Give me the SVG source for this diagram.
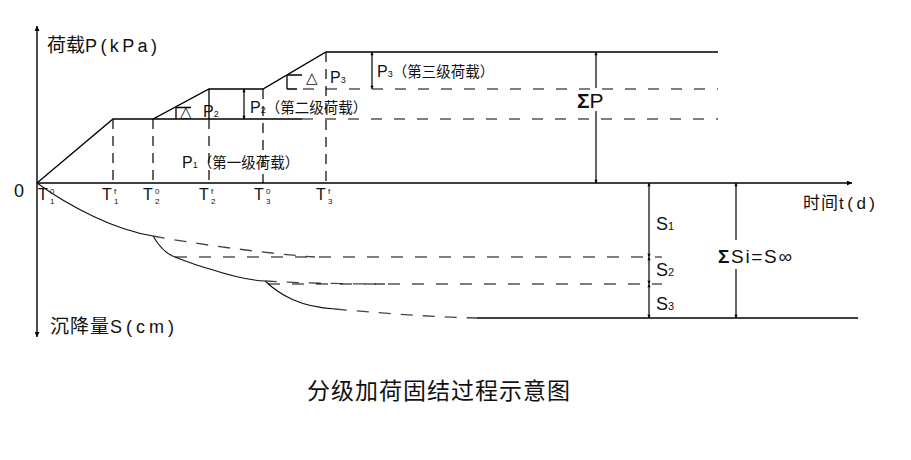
<svg xmlns="http://www.w3.org/2000/svg" width="911" height="460" viewBox="0 0 911 460">
<style>
.ln{stroke:#000;stroke-width:1.3;fill:none}
.dl{stroke:#000;stroke-width:1.2;fill:none;stroke-dasharray:11 12}
.dv{stroke:#000;stroke-width:1.2;fill:none;stroke-dasharray:10 7}
.ds{stroke:#000;stroke-width:1.2;fill:none;stroke-dasharray:12 12}
.cv{stroke:#111;stroke-width:1.1;fill:none}
.cd{stroke:#444;stroke-width:1.3;fill:none;stroke-dasharray:12 10}
.dim{stroke:#000;stroke-width:1.2;fill:none;marker-start:url(#ah);marker-end:url(#ah)}
.dimS{stroke:#000;stroke-width:1.2;fill:none;marker-start:url(#ah)}
.dimE{stroke:#000;stroke-width:1.2;fill:none;marker-end:url(#ah)}
.axis{stroke:#000;stroke-width:1.4;fill:none;marker-start:url(#ax);marker-end:url(#ax)}
.lat{font-family:"Liberation Sans",Arial,sans-serif;fill:#111}
.cjk{font-family:"Noto Sans CJK SC","Liberation Sans",sans-serif;fill:#111}
.sym{font-family:"DejaVu Sans","Liberation Sans",sans-serif;fill:#111}
.sx{font-family:"Liberation Sans",Arial,sans-serif;fill:#111;font-size:8px}
</style>
<defs>
<marker id="ah" viewBox="0 0 10 10" refX="10" refY="5" markerWidth="7" markerHeight="3.2" markerUnits="userSpaceOnUse" orient="auto-start-reverse"><path d="M0,0L10,5L0,10z" fill="#000"/></marker>
<marker id="ax" viewBox="0 0 10 10" refX="10" refY="5" markerWidth="16" markerHeight="5" markerUnits="userSpaceOnUse" orient="auto-start-reverse"><path d="M0,0L10,5L0,10z" fill="#000"/></marker>
</defs>
<rect width="911" height="460" fill="#fff"/>

<g id="axes">
<path class="axis" d="M37,337 L37,26"/>
<path class="ln" d="M37,183 L852,183" style="marker-end:url(#ax)"/>
<text class="lat" x="14" y="197" font-size="18">0</text>
<text class="cjk" x="47" y="52" font-size="19">荷载<tspan class="lat" font-size="18" letter-spacing="3.4">P(kPa)</tspan></text>
<text class="cjk" x="50" y="333" font-size="19" letter-spacing="1">沉降量<tspan class="lat" font-size="18" letter-spacing="4">S(cm)</tspan></text>
<text class="cjk" x="803" y="209" font-size="17" letter-spacing="1">时间<tspan class="lat" font-size="17" letter-spacing="3.5">t(d)</tspan></text>
</g>

<g id="time-ticks">
<path class="dv" d="M113,119 L113,183 M153,119 L153,183 M209,119 L209,183 M263,89 L263,183 M326,52 L326,183"/>
<text class="lat" x="38" y="200" font-size="16">T</text><text class="sx" x="50" y="193.5">0</text><text class="sx" x="50" y="203.5">1</text>
<text class="lat" x="102" y="200" font-size="16">T</text><text class="sx" x="114" y="193.5">f</text><text class="sx" x="114" y="203.5">1</text>
<text class="lat" x="143" y="200" font-size="16">T</text><text class="sx" x="155" y="193.5">0</text><text class="sx" x="155" y="203.5">2</text>
<text class="lat" x="199" y="200" font-size="16">T</text><text class="sx" x="211" y="193.5">f</text><text class="sx" x="211" y="203.5">2</text>
<text class="lat" x="254" y="200" font-size="16">T</text><text class="sx" x="266" y="193.5">0</text><text class="sx" x="266" y="203.5">3</text>
<text class="lat" x="316" y="200" font-size="16">T</text><text class="sx" x="328" y="193.5">f</text><text class="sx" x="328" y="203.5">3</text>
</g>

<g id="load-curve">
<path class="ln" d="M37,183 L113,119 L153,119 L209,89 L263,89 L326,52 L718,52"/>
<path class="ln" d="M153,119 L302,119 M209,89 L209,119"/>
<path class="ln" d="M176,107.5 L176,119 M176,107.5 L191,107.5"/>
<path class="ln" d="M287,75 L287,89 M287,75 L302,75 M287,89 L297,89"/>
<path class="dl" d="M302,119 L718,119 M303,89 L718,89"/>
<text class="lat" x="182" y="168" font-size="16">P<tspan font-size="9">1</tspan><tspan class="cjk" font-size="14.5">（第一级荷载）</tspan></text>
<text class="lat" x="250" y="113" font-size="16">P<tspan font-size="9">2</tspan><tspan class="cjk" font-size="14.5">（第二级荷载）</tspan></text>
<text class="lat" x="377" y="77" font-size="16">P<tspan font-size="9">3</tspan><tspan class="cjk" font-size="14.5">（第三级荷载）</tspan></text>
<text class="lat" y="117" font-size="16"><tspan class="sym" x="180" font-size="15">△</tspan><tspan x="203">P</tspan><tspan font-size="9">2</tspan></text>
<text class="lat" y="83" font-size="16"><tspan class="sym" x="306" font-size="15">△</tspan><tspan x="330">P</tspan><tspan font-size="9">3</tspan></text>
<text class="lat" x="577" y="108" font-size="21"><tspan font-weight="bold">Σ</tspan>P</text>
</g>

<g id="settlement-curve">
<path class="cv" d="M37,183 C70,207 115,230 153,236"/>
<path class="cv" d="M153,236 C160,248 166,254 175,257 C188,262 198,266 210,269 C228,275 245,280 265,281"/>
<path class="cv" d="M265,281 C280,295 300,307 335,309"/>
<path class="cd" d="M153,236 C190,243 260,253 315,257"/>
<path class="cd" d="M265,281 C300,283 340,284 385,284"/>
<path class="cd" d="M335,309 C380,313 430,317 477,318"/>
<path class="ds" d="M175,257 L662,257 M268,284 L662,284"/>
<path class="ln" d="M477,318 L858,318"/>
<text class="lat" x="656" y="230" font-size="18">S<tspan font-size="11">1</tspan></text>
<text class="lat" x="656" y="276" font-size="18">S<tspan font-size="11">2</tspan></text>
<text class="lat" x="656" y="310" font-size="18">S<tspan font-size="11">3</tspan></text>
<text class="lat" x="718" y="263" font-size="19" textLength="74" lengthAdjust="spacing"><tspan font-weight="bold">Σ</tspan>Si=S∞</text>
</g>

<g id="connectors">
<path class="dim" d="M244,89 L244,119"/>
<path class="dim" d="M372,52 L372,89"/>
<path class="dimS" d="M596,52 L596,88"/>
<path class="dimE" d="M596,111 L596,183"/>
<path class="dim" d="M649,183 L649,257"/>
<path class="dim" d="M649,257 L649,284"/>
<path class="dim" d="M649,284 L649,318"/>
<path class="dimS" d="M736,183 L736,240"/>
<path class="dimE" d="M736,269 L736,318"/>
</g>

<g id="title">
<text class="cjk" x="438.5" y="399" font-size="23" text-anchor="middle" textLength="263" lengthAdjust="spacing">分级加荷固结过程示意图</text>
</g>
</svg>
